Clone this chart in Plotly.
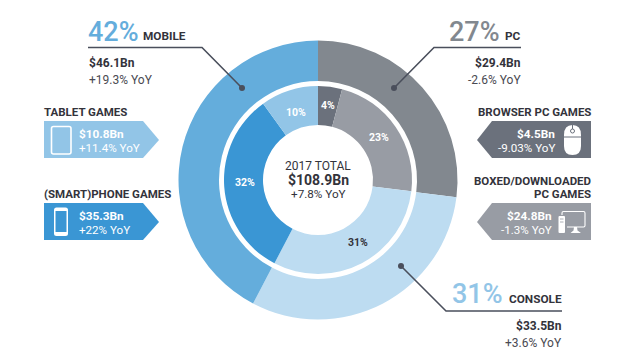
import plotly.graph_objects as go

W, H = 624, 359
CX, CY = 318, 180

segments = ["PC", "Console", "Mobile"]
segment_values = [29.4, 33.5, 46.1]
segment_colors = ["#82888F", "#BDDCF1", "#64ADDC"]

sub_segments = ["Browser PC games", "Boxed/downloaded PC games", "Console", "(Smart)phone games", "Tablet games"]
sub_values = [4.5, 24.8, 33.5, 35.3, 10.8]
sub_colors = ["#6B717C", "#989CA4", "#BDDCF1", "#3A96D4", "#92C5E7"]


def domain(r):
    return dict(x=[(CX - r) / W, (CX + r) / W], y=[1 - (CY + r) / H, 1 - (CY - r) / H])


fig = go.Figure()
fig.add_trace(go.Pie(values=segment_values, labels=segments, sort=False, direction="clockwise", rotation=0,
                     hole=99 / 139.5, domain=domain(139.5), textinfo="none", hoverinfo="label+value",
                     marker=dict(colors=segment_colors, line=dict(width=0)), showlegend=False))
fig.add_trace(go.Pie(values=sub_values, labels=sub_segments, sort=False, direction="clockwise", rotation=0,
                     hole=55 / 94, domain=domain(94), textinfo="none", hoverinfo="label+value",
                     marker=dict(colors=sub_colors, line=dict(width=0)), showlegend=False))

DARK = "#33333B"
GREY = "#4A4A52"
LINE = "#4A4F5C"
shapes = []
annots = []


def txt(x, y, s, size=11, color=DARK, bold=False, anchor="left", weight=None):
    shift = {"left": -1, "right": 1, "center": 0}[anchor]
    annots.append(dict(x=x, y=y, xref="x", yref="y", text=s, showarrow=False, xshift=shift,
                       xanchor=anchor, yanchor="middle", borderpad=0,
                       font=dict(family="Roboto", size=size, color=color,
                                 weight=weight if weight else (700 if bold else 400))))


def path(d, fill=None, line=None, width=1):
    shapes.append(dict(type="path", path=d, xref="x", yref="y", fillcolor=fill or "rgba(0,0,0,0)",
                       line=dict(color=line or "rgba(0,0,0,0)", width=width if line else 0), layer="above"))


def rrect(x0, y0, x1, y1, r):
    return (f"M{x0+r},{y0} L{x1-r},{y0} Q{x1},{y0} {x1},{y0+r} L{x1},{y1-r} Q{x1},{y1} {x1-r},{y1} "
            f"L{x0+r},{y1} Q{x0},{y1} {x0},{y1-r} L{x0},{y0+r} Q{x0},{y0} {x0+r},{y0} Z")


def dot(x, y, r=3):
    shapes.append(dict(type="circle", x0=x - r, x1=x + r, y0=y - r, y1=y + r, xref="x", yref="y",
                       fillcolor=LINE, line=dict(width=0), layer="above"))


# leader lines
path("M88,47.5 L202,47.5 L242,88", line=LINE, width=1.6)
dot(242, 88)
path("M521,47.5 L434,47.5 L394,88", line=LINE, width=1.6)
dot(394, 88)
path("M562,311 L446,311 L401,266", line=LINE, width=1.6)
dot(401, 266)

# callout arrows
path("M44,121 L143,121 L159,140 L143,158 L44,158 Z", fill="#92C5E7")
path("M44,203 L143,203 L159,222 L143,240 L44,240 Z", fill="#3A96D4")
path("M591,121 L492,121 L477,140 L492,158 L591,158 Z", fill="#6B717C")
path("M591,203 L492,203 L477,222 L492,240 L591,240 Z", fill="#989CA4")

# tablet icon
path(rrect(51.5, 126.5, 71, 154, 2), line="white", width=1.6)
path("M60,151.5 h1.6 v1 h-1.6 Z", fill="white")
# phone icon
path(rrect(54, 207.5, 68, 236, 2.5), fill="white")
path("M55.5,211 H66.5 V232 H55.5 Z", fill="#3A96D4")
# mouse icon
path("M564,146 L564,135 Q564,125 572.5,125 Q581,125 581,135 L581,146 Q581,155 572.5,155 Q564,155 564,146 Z", fill="white")
path("M564,137 H581", line="#6B717C", width=1)
path("M572.5,125 V131", line="#6B717C", width=1)
shapes.append(dict(type="circle", x0=570.5, x1=574.5, y0=129, y1=133, xref="x", yref="y", fillcolor="white",
                   line=dict(color="#6B717C", width=1), layer="above"))
# computer icon
path("M567,211.5 H583.5 Q585,211.5 585,213 V225.5 Q585,227 583.5,227 H567 M562,215 V213 Q562,211.5 563.5,211.5 H567",
     line="white", width=1.1)
path(rrect(558.5, 216, 565, 233, 1), fill="white")
path("M560,219 H563.5 M560,222 H563.5", line="#989CA4", width=0.8)
path("M574,227 H577 L577.5,230.5 L581,233 H570.5 L573.5,230.5 Z", fill="white")

# callout titles and text
txt(88, 32, "42%", 27, "#64ADDC", weight=500)
txt(143, 36, "MOBILE", 11.8, DARK, True)
txt(88.5, 62.5, "$46.1Bn", 12, DARK, True)
txt(88.5, 80, "+19.3% YoY", 12, GREY)

txt(499.5, 32, "27%", 27, "#82888F", anchor="right", weight=500)
txt(521, 36, "PC", 11.8, DARK, True, "right")
txt(521, 62.5, "$29.4Bn", 12, DARK, True, "right")
txt(521, 80, "-2.6% YoY", 12, GREY, anchor="right")

txt(503, 294, "31%", 27, "#92C5E7", anchor="right", weight=500)
txt(562, 299, "CONSOLE", 11.8, DARK, True, "right")
txt(562, 325.5, "$33.5Bn", 12, DARK, True, "right")
txt(562, 343, "+3.6% YoY", 12, GREY, anchor="right")

txt(44, 111.5, "TABLET GAMES", 11.5, DARK, True)
txt(79, 134, "$10.8Bn", 11.8, "white", True)
txt(79, 148, "+11.4% YoY", 11.6, "white")

txt(44, 193.5, "(SMART)PHONE GAMES", 11.5, DARK, True)
txt(79, 215.5, "$35.3Bn", 11.8, "white", True)
txt(79, 229.5, "+22% YoY", 11.6, "white")

txt(591, 111.5, "BROWSER PC GAMES", 11.5, DARK, True, "right")
txt(555, 134, "$4.5Bn", 11.8, "white", True, "right")
txt(555, 148, "-9.03% YoY", 11.6, "white", anchor="right")

txt(591, 181, "BOXED/DOWNLOADED", 11.5, DARK, True, "right")
txt(591, 193.5, "PC GAMES", 11.5, DARK, True, "right")
txt(552, 215.5, "$24.8Bn", 11.8, "white", True, "right")
txt(552, 229.5, "-1.3% YoY", 11.6, "white", anchor="right")

# centre
txt(318, 166, "2017 TOTAL", 12, DARK, anchor="center")
txt(318, 180, "$108.9Bn", 14, DARK, True, "center")
txt(318, 194, "+7.8% YoY", 11.7, DARK, anchor="center")

# ring share labels
txt(296, 112, "10%", 10.5, "white", True, "center")
txt(328, 105, "4%", 10.5, "white", True, "center")
txt(379, 137.5, "23%", 10.5, "white", True, "center")
txt(358, 242.5, "31%", 10.5, DARK, True, "center")
txt(245, 182, "32%", 10.5, "white", True, "center")

fig.update_layout(width=W, height=H, margin=dict(l=0, r=0, t=0, b=0), paper_bgcolor="white", plot_bgcolor="white",
                  showlegend=False, shapes=shapes, annotations=annots,
                  xaxis=dict(range=[0, W], visible=False, fixedrange=True),
                  yaxis=dict(range=[H, 0], visible=False, fixedrange=True))
fig.write_html("out.html", config=dict(displayModeBar=False),
               post_script="document.body.style.margin='0';document.documentElement.style.overflow='hidden';")
